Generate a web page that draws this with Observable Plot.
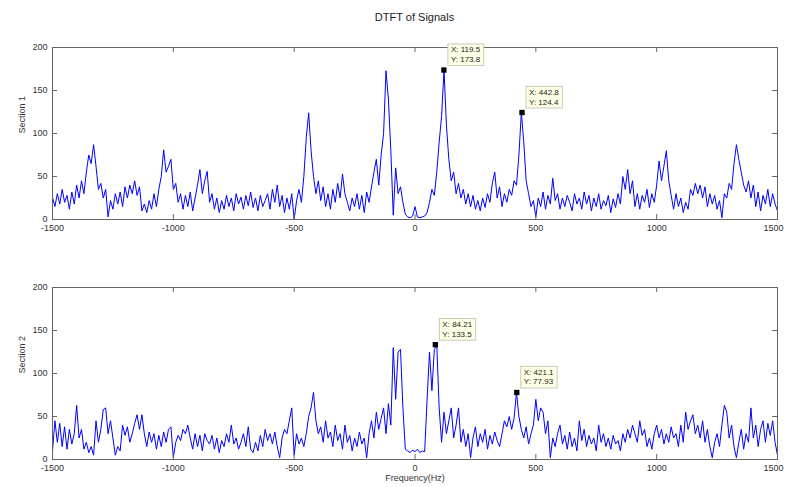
<!DOCTYPE html>
<html><head><meta charset="utf-8">
<script src="https://cdn.jsdelivr.net/npm/d3@7"></script>
<script src="https://cdn.jsdelivr.net/npm/@observablehq/plot@0.6"></script>
<style>
body{margin:0;background:#fff;}
#wrap{position:relative;width:785px;height:487px;overflow:hidden;font-family:"Liberation Sans",Arial,sans-serif;background:#fff;}
#title{position:absolute;left:0;width:829px;top:11px;text-align:center;font-size:11px;color:#222;line-height:13px;}
.panel{position:absolute;left:0;}
.panel svg{overflow:visible;}
</style>
</head><body>
<div id="wrap">
  <div id="title">DTFT of Signals</div>
  <div class="panel" id="p1" style="top:30px"></div>
  <div class="panel" id="p2" style="top:270px"></div>
</div>
<script>
// frequency grid (Hz) on which the magnitudes below were read
const freqHz = d3.range(-1500, 1501, 10);

// Section 1 magnitude (-1500 ... 1500 Hz, every 10 Hz)
const section1 = [
  26,15,30,18,35,20,28,12,32,18,
  40,25,45,30,55,75,65,87,62,35,
  42,25,35,3,22,12,30,18,32,15,
  38,25,40,30,45,28,38,10,18,8,
  22,12,30,15,35,50,81,55,62,70,
  35,42,20,30,12,28,15,32,10,25,
  40,58,30,45,56,20,30,12,25,8,
  22,12,28,15,25,10,30,18,26,12,
  28,16,32,14,25,10,28,15,22,30,
  12,35,20,40,15,28,8,25,12,30,
  0,22,35,20,50,95,124,80,50,30,
  45,22,38,15,30,12,35,20,42,25,
  53,30,20,10,25,15,30,12,28,8,
  32,20,38,55,70,40,75,100,173,140,
  80,5,60,30,38,20,6,3,2,4,
  15,3,2,3,4,8,20,35,28,55,
  90,120,173.8,110,70,45,55,30,42,25,
  35,18,30,15,28,12,22,10,25,14,
  30,20,42,55,25,38,15,30,20,35,
  28,45,40,75,124.4,90,45,30,15,22,
  3,25,15,32,12,28,18,48,22,30,
  12,25,15,28,20,10,30,18,25,12,
  32,18,28,10,25,15,30,12,22,16,
  28,8,24,14,30,18,50,35,58,30,
  45,15,30,12,28,20,35,14,30,20,
  40,68,45,62,80,45,28,12,30,15,
  25,8,20,12,35,28,42,30,40,25,
  38,15,30,18,28,12,22,2,30,25,
  42,35,65,87,70,55,40,32,45,25,
  40,15,32,10,28,18,35,15,30,18,
  10
];

// Section 2 magnitude (-1500 ... 1500 Hz, every 10 Hz)
const section2 = [
  10,45,20,42,15,38,12,35,18,30,
  63,25,35,12,20,8,15,5,45,20,
  35,58,60,30,45,25,5,15,10,40,
  28,38,20,30,42,52,35,52,30,15,
  32,20,30,12,28,15,32,20,35,38,
  2,20,28,22,35,30,40,25,12,30,
  15,28,10,30,22,18,28,12,25,8,
  22,15,30,20,40,18,25,12,20,30,
  15,38,12,8,20,10,28,15,35,22,
  30,18,32,15,2,25,35,30,45,60,
  5,30,18,25,15,30,50,60,78,45,
  30,38,20,45,25,32,15,40,22,30,
  12,40,20,28,10,25,15,32,18,25,
  2,30,45,25,55,35,48,60,30,65,
  40,130,70,125,128,60,12,10,8,11,
  9,12,8,10,9,70,125,80,128,133.5,
  60,20,55,30,45,60,25,40,60,20,
  35,15,30,2,25,38,15,30,20,35,
  12,28,18,32,22,15,30,45,38,50,
  35,48,77.93,50,35,25,38,18,30,40,
  70,45,60,55,30,45,2,25,15,30,
  40,18,28,12,32,15,25,10,45,22,
  35,15,28,18,25,10,40,20,30,15,
  25,12,28,18,22,10,30,20,35,25,
  40,30,20,45,28,35,15,25,12,30,
  40,25,35,18,30,20,38,25,30,15,
  40,20,55,35,45,52,30,40,25,45,
  20,35,15,2,20,30,15,40,63,55,
  25,40,15,2,20,35,12,30,20,60,
  25,40,15,35,45,20,42,28,45,20,
  5
];

const xTicks = [-1500,-1000,-500,0,500,1000,1500];
const yTicks = [0,50,100,150,200];
const tips1 = [{x:119.5,y:173.8},{x:442.8,y:124.4}];
const tips2 = [{x:84.21,y:133.5},{x:421.1,y:77.93}];

function addBoxes(svg){
  svg.querySelectorAll("text").forEach(t=>{
    if(t.textContent==="1500"){ t.setAttribute("dx","-4"); return; }
    if(!t.textContent.startsWith("X:")) return;
    const b=t.getBBox();
    const r=document.createElementNS("http://www.w3.org/2000/svg","rect");
    r.setAttribute("x",b.x-3);
    r.setAttribute("y",b.y-1.5);
    r.setAttribute("width",b.width+6);
    r.setAttribute("height",b.height+3);
    const tr=t.getAttribute("transform");
    if(tr) r.setAttribute("transform",tr);
    r.setAttribute("fill","#ffffe6");
    r.setAttribute("stroke","#cacab8");
    r.setAttribute("stroke-width","1");
    t.parentNode.insertBefore(r,t);
  });
}

function panel(el, values, tips, label, xLabel, height, mt, mb){
  const W=785, ml=52, mr=8;
  const innerH=height-mt-mb, innerW=W-ml-mr;
  const data=freqHz.map((f,i)=>({f, v:values[i]}));
  const marks=[
    Plot.line(data,{x:"f",y:"v",stroke:"#0000ff",strokeWidth:1}),
    Plot.frame({stroke:"#666",strokeWidth:1}),
    Plot.tickX(xTicks,{x:d=>d,insetTop:innerH-5,stroke:"#666"}),
    Plot.tickX(xTicks,{x:d=>d,insetBottom:innerH-5,stroke:"#666"}),
    Plot.tickY(yTicks,{y:d=>d,insetRight:innerW-5,stroke:"#666"}),
    Plot.tickY(yTicks,{y:d=>d,insetLeft:innerW-5,stroke:"#666"}),
    Plot.text([label],{text:d=>d,frameAnchor:"left",dx:-30,rotate:-90,fontSize:9,fill:"#333"}),
    Plot.dot(tips,{x:"x",y:"y",symbol:"square",r:3,fill:"#000",stroke:"none"}),
    Plot.text(tips,{x:"x",y:"y",text:d=>`X: ${d.x}\nY: ${d.y}`,textAnchor:"start",lineAnchor:"bottom",dx:7,dy:-8,fontSize:8,lineHeight:1.2,fill:"#222"})
  ];
  if(xLabel) marks.push(Plot.text([xLabel],{text:d=>d,frameAnchor:"bottom",dy:21,fontSize:9,fill:"#333"}));
  const svg=Plot.plot({
    width:W, height, marginLeft:ml, marginRight:mr, marginTop:mt, marginBottom:mb,
    style:{fontFamily:"Liberation Sans, Arial, sans-serif",fontSize:"9px",color:"#333",background:"transparent",overflow:"visible"},
    x:{domain:[-1500,1500],ticks:xTicks,tickSize:0,tickPadding:5,tickFormat:d=>String(d),label:null},
    y:{domain:[0,200],ticks:yTicks,tickSize:0,tickPadding:5,tickFormat:d=>String(d),label:null},
    marks
  });
  el.appendChild(svg);
  addBoxes(svg);
}

panel(document.getElementById("p1"), section1, tips1, "Section 1", null, 215, 17, 26);
panel(document.getElementById("p2"), section2, tips2, "Section 2", "Frequency(Hz)", 217, 17, 28);
</script>
</body></html>
